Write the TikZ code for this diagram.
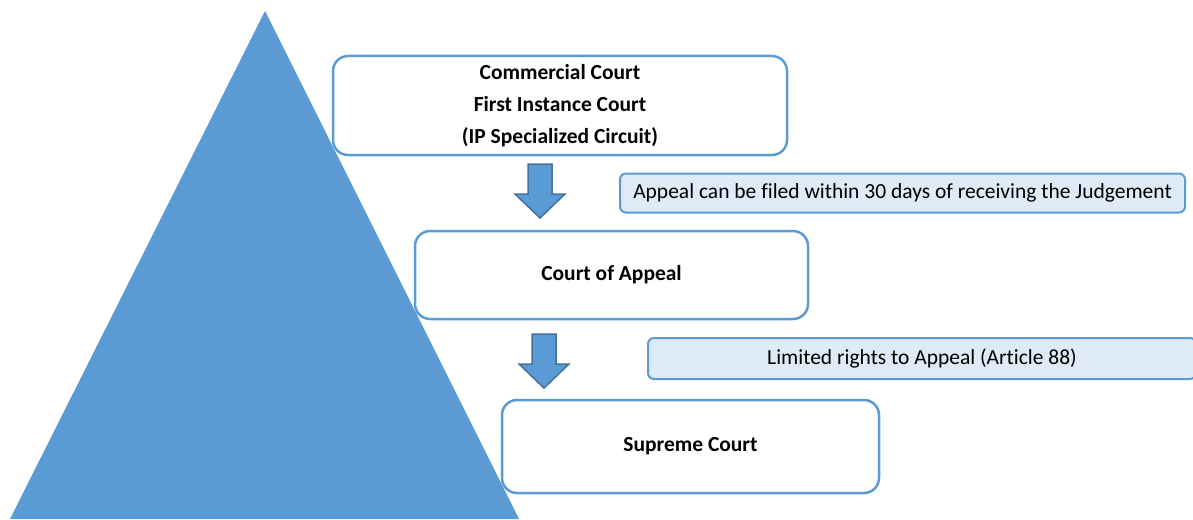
\documentclass[tikz,border=0pt]{standalone}
\usepackage{fontspec}
\setmainfont{Carlito}[Ligatures=NoCommon]
\definecolor{tri}{HTML}{5B9BD5}
\definecolor{arrdark}{HTML}{41719C}
\definecolor{notefill}{HTML}{DEEBF7}
\tikzset{
  court/.style={draw=tri, line width=2.5pt, fill=white, rounded corners=15pt, font=\fontsize{21.5}{32}\selectfont\bfseries, align=center, inner sep=0pt},
  note/.style={draw=tri, line width=2pt, fill=notefill, rounded corners=6pt, font=\fontsize{21.5}{24}\selectfont, inner sep=0pt},
  blockarrow/.style={fill=tri, draw=arrdark, line width=1.5pt, line join=miter},
  pics/downarrow/.style={code={
    \draw[blockarrow] (-12,0) -- (12,0) -- (12,30) -- (25,30) -- (0,54) -- (-25,30) -- (-12,30) -- cycle;
  }}
}
\begin{document}
\begin{tikzpicture}[x=1pt,y=-1pt]
\useasboundingbox (0,0) rectangle (1193,519);
% pyramid
\fill[tri] (265,11) -- (519,519) -- (10,519) -- cycle;
% courts
\node[court, minimum width=454pt, minimum height=99pt] (c1) at (560,105.5) {Commercial Court\\First Instance Court\\(IP Specialized Circuit)};
\node[court, minimum width=393pt, minimum height=88pt] (c2) at (611.5,275) {Court of Appeal};
\node[court, minimum width=377pt, minimum height=93pt] (c3) at (690.5,446.5) {Supreme Court};
% notes
\node[note, minimum width=565pt, minimum height=39pt] (n1) at (902.5,193) {Appeal can be filed within 30 days of receiving the Judgement};
\node[note, minimum width=548pt, minimum height=41pt] (n2) at (922,358.5) {Limited rights to Appeal (Article 88)};
% block arrows
\pic at (540,164) {downarrow};
\pic at (544,334) {downarrow};
\end{tikzpicture}
\end{document}
